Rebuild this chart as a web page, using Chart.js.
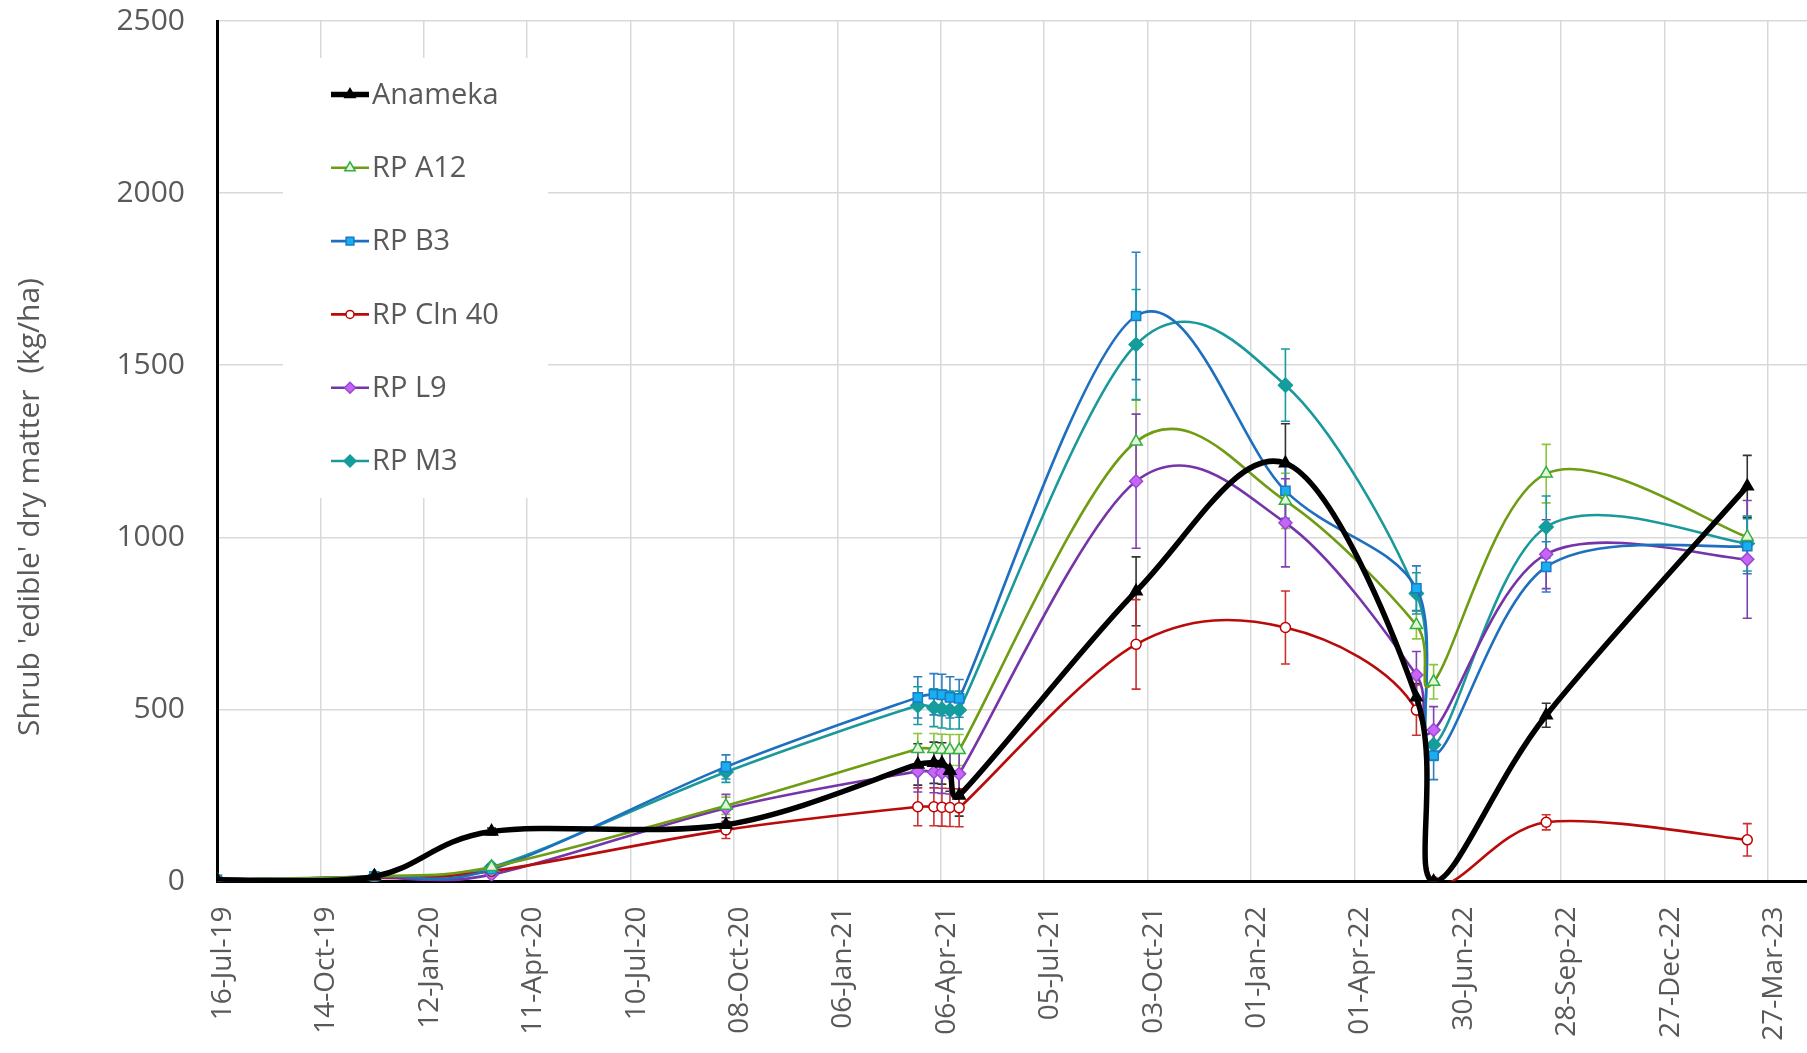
<!DOCTYPE html>
<html>
<head>
<meta charset="utf-8">
<title>Shrub edible dry matter</title>
<script src="https://cdn.jsdelivr.net/npm/chart.js@4.4.1/dist/chart.umd.min.js"></script>
<style>
  html, body { margin: 0; padding: 0; background: #fff; overflow: hidden; }
  canvas { display: block; }
</style>
</head>
<body>
<canvas id="chart" width="1807" height="1053"></canvas>
<script>
// --- data (kg/ha) ---
const sampleDates = ['16-Jul-19', '30-Nov-19', '11-Mar-20', '01-Oct-20', '17-Mar-21', '31-Mar-21', '07-Apr-21',
  '14-Apr-21', '22-Apr-21', '23-Sep-21', '31-Jan-22', '25-May-22', '09-Jun-22', '15-Sep-22', '09-Mar-23'];
const tickLabels = ['16-Jul-19', '14-Oct-19', '12-Jan-20', '11-Apr-20', '10-Jul-20', '08-Oct-20', '06-Jan-21', '06-Apr-21',
  '05-Jul-21', '03-Oct-21', '01-Jan-22', '01-Apr-22', '30-Jun-22', '28-Sep-22', '27-Dec-22', '27-Mar-23'];
const xEnd = '30-Apr-23';
const yTicks = [0, 500, 1000, 1500, 2000, 2500];

const anameka = [5, 15, 145, 165, 340, 345, 343, 322, 250, 843, 1215, 535, 0, 483, 1148];
const rpA12   = [5, 15, 42, 220, 385, 385, 383, 382, 382, 1278, 1106, 745, 580, 1185, 1001];
const rpB3    = [5, 15, 35, 333, 535, 544, 542, 535, 532, 1643, 1135, 852, 366, 914, 974];
const rpCln40 = [5, 12, 30, 150, 217, 217, 216, 215, 214, 689, 738, 498, 0, 172, 121];
const rpL9    = [3, 10, 20, 213, 320, 318, 316, 314, 313, 1163, 1042, 600, 440, 951, 936];
const rpM3    = [5, 15, 42, 318, 511, 505, 501, 498, 498, 1560, 1442, 837, 397, 1030, 982];

// +/- error per sample
const errAnameka = [0, 5, 10, 20, 60, 60, 60, 60, 60, 100, 115, 40, 0, 35, 90];
const errA12     = [0, 5, 8, 25, 45, 45, 45, 45, 45, 120, 80, 40, 50, 85, 60];
const errB3      = [0, 5, 8, 35, 60, 60, 60, 60, 55, 185, 80, 65, 70, 73, 80];
const errCln40   = [0, 4, 6, 25, 55, 55, 55, 55, 55, 130, 106, 73, 0, 22, 47];
const errL9      = [0, 4, 6, 40, 60, 60, 60, 60, 60, 195, 128, 68, 68, 100, 171];
const errM3      = [0, 5, 8, 30, 55, 55, 55, 55, 55, 160, 105, 60, 45, 90, 80];

const MONTHS = { Jan: 0, Feb: 1, Mar: 2, Apr: 3, May: 4, Jun: 5, Jul: 6, Aug: 7, Sep: 8, Oct: 9, Nov: 10, Dec: 11 };
function toDay(s) {
  const [d, m, y] = s.split('-');
  return Date.UTC(2000 + +y, MONTHS[m], +d) / 864e5;
}

const TEXT = '#595959';
const FONT = '"Open Sans", "DejaVu Sans", sans-serif';

function series(label, vals, errs, opts) {
  return Object.assign({
    label,
    data: sampleDates.map((d, i) => ({ x: toDay(d), y: vals[i] })),
    errors: errs,
    borderWidth: 2.6,
    pointBorderWidth: 1.5,
    tension: 0.4
  }, opts);
}

const datasets = [
  series('Anameka', anameka, errAnameka, { borderColor: '#000', borderWidth: 5.5, pointStyle: 'triangle',
    pointBackgroundColor: '#000', pointBorderColor: '#000', pointRadius: 7, errColor: '#333' }),
  series('RP A12', rpA12, errA12, { borderColor: '#6f9c12', pointStyle: 'triangle',
    pointBackgroundColor: '#e6f4d8', pointBorderColor: '#33b040', pointRadius: 7, errColor: '#8cc43c' }),
  series('RP B3', rpB3, errB3, { borderColor: '#1f6fc0', pointStyle: 'rect',
    pointBackgroundColor: '#16b0f0', pointBorderColor: '#1f78c8', pointRadius: 6.5, errColor: '#2a7fc4' }),
  series('RP Cln 40', rpCln40, errCln40, { borderColor: '#b80c0c', pointStyle: 'circle',
    pointBackgroundColor: '#fff', pointBorderColor: '#c00000', pointRadius: 5, errColor: '#cc3030' }),
  series('RP L9', rpL9, errL9, { borderColor: '#7535a8', pointStyle: 'rectRot',
    pointBackgroundColor: '#c864f8', pointBorderColor: '#9848d0', pointRadius: 6.5, errColor: '#8040b0' }),
  series('RP M3', rpM3, errM3, { borderColor: '#19999a', pointStyle: 'rectRot',
    pointBackgroundColor: '#159c9c', pointBorderColor: '#159c9c', pointRadius: 7, errColor: '#1a9a9a' })
];

// white legend panel sitting on the grid, top-left of the plot
const legendBox = {
  id: 'legendBox',
  beforeDatasetsDraw(chart) {
    const ctx = chart.ctx;
    ctx.save();
    ctx.fillStyle = '#fff';
    ctx.fillRect(283, 58, 265, 440);
    chart.data.datasets.forEach((ds, i) => {
      const yy = 94.5 + i * 73.3;
      ctx.strokeStyle = ds.borderColor;
      ctx.lineWidth = ds.borderWidth;
      ctx.beginPath();
      ctx.moveTo(331, yy);
      ctx.lineTo(369, yy);
      ctx.stroke();
      ctx.fillStyle = ds.pointBackgroundColor;
      ctx.strokeStyle = ds.pointBorderColor;
      ctx.lineWidth = 1.5;
      Chart.helpers.drawPoint(ctx, { pointStyle: ds.pointStyle, radius: ds.pointRadius - 1, borderWidth: 1.5, rotation: 0 }, 350, yy);
      ctx.fillStyle = TEXT;
      ctx.font = '29px ' + FONT;
      ctx.textBaseline = 'middle';
      ctx.fillText(ds.label, 372, yy + 1);
    });
    ctx.restore();
  }
};

// vertical error bars with caps, in series colour
const errorBars = {
  id: 'errorBars',
  beforeDatasetsDraw(chart) {
    const { ctx, chartArea, scales } = chart;
    ctx.save();
    ctx.beginPath();
    ctx.rect(chartArea.left, chartArea.top, chartArea.width, chartArea.height);
    ctx.clip();
    chart.data.datasets.forEach((ds, di) => {
      const meta = chart.getDatasetMeta(di);
      ctx.strokeStyle = ds.errColor;
      ctx.lineWidth = 1.6;
      ds.errors.forEach((e, i) => {
        if (!e) return;
        const x = meta.data[i].x;
        const v = ds.data[i].y;
        const yTop = scales.y.getPixelForValue(v + e);
        const yBot = scales.y.getPixelForValue(Math.max(v - e, 0));
        ctx.beginPath();
        ctx.moveTo(x, yTop); ctx.lineTo(x, yBot);
        ctx.moveTo(x - 4.5, yTop); ctx.lineTo(x + 4.5, yTop);
        ctx.moveTo(x - 4.5, yBot); ctx.lineTo(x + 4.5, yBot);
        ctx.stroke();
      });
    });
    ctx.restore();
  }
};

// spreadsheet-style smoothing: handles at 1/6 of the neighbour chord,
// shortened when the adjoining segment is very short
const excelSmooth = {
  id: 'excelSmooth',
  beforeDatasetsDraw(chart) {
    chart.getSortedVisibleDatasetMetas().forEach(meta => {
      const pts = meta.data;
      const n = pts.length;
      for (let i = 0; i < n; i++) {
        const p = pts[i];
        const prev = pts[Math.max(i - 1, 0)];
        const next = pts[Math.min(i + 1, n - 1)];
        const tx = (next.x - prev.x) / 6;
        const ty = (next.y - prev.y) / 6;
        const tl = Math.hypot(tx, ty) || 1;
        const kPrev = Math.min(1, 0.5 * Math.hypot(p.x - prev.x, p.y - prev.y) / tl);
        const kNext = Math.min(1, 0.5 * Math.hypot(next.x - p.x, next.y - p.y) / tl);
        p.cp1x = p.x - tx * kPrev; p.cp1y = p.y - ty * kPrev;
        p.cp2x = p.x + tx * kNext; p.cp2y = p.y + ty * kNext;
      }
      meta.dataset._pointsUpdated = true;
      meta.dataset._path = undefined;
    });
  }
};

const yTitle = {
  id: 'yTitle',
  afterDraw(chart) {
    const ctx = chart.ctx;
    ctx.save();
    ctx.translate(30, 507);
    ctx.rotate(-Math.PI / 2);
    ctx.fillStyle = TEXT;
    ctx.font = '30px ' + FONT;
    ctx.textAlign = 'center';
    ctx.textBaseline = 'middle';
    ctx.fillText("Shrub 'edible' dry matter  (kg/ha)", 0, 0);
    ctx.restore();
  }
};

new Chart(document.getElementById('chart'), {
  type: 'line',
  data: { datasets },
  options: {
    responsive: false,
    animation: false,
    events: [],
    layout: { autoPadding: false, padding: { top: 21, left: 0, right: 0, bottom: 0 } },
    plugins: { legend: { display: false }, tooltip: { enabled: false } },
    scales: {
      x: {
        type: 'linear',
        min: toDay(tickLabels[0]),
        max: toDay(xEnd),
        afterBuildTicks: s => { s.ticks = tickLabels.map(l => ({ value: toDay(l) })); },
        afterFit: s => { s.height = 171.5; s.paddingLeft = 0; s.paddingRight = 0; },
        grid: { color: '#d9d9d9', lineWidth: 1.5, drawTicks: false },
        border: { color: '#000', width: 3 },
        ticks: {
          autoSkip: false, minRotation: 90, maxRotation: 90, padding: 25, labelOffset: 6,
          color: TEXT, font: { family: FONT, size: 28 },
          callback: (v, i) => tickLabels[i]
        }
      },
      y: {
        min: 0,
        max: 2500,
        afterBuildTicks: s => { s.ticks = yTicks.map(v => ({ value: v })); },
        afterFit: s => { s.width = 217; s.paddingTop = 0; s.paddingBottom = 0; },
        grid: { color: '#d9d9d9', lineWidth: 1.5, drawTicks: false },
        border: { color: '#000', width: 3 },
        ticks: { padding: 32, color: TEXT, font: { family: FONT, size: 30 }, callback: v => String(v) }
      }
    }
  },
  plugins: [legendBox, errorBars, excelSmooth, yTitle]
});
</script>
</body>
</html>
